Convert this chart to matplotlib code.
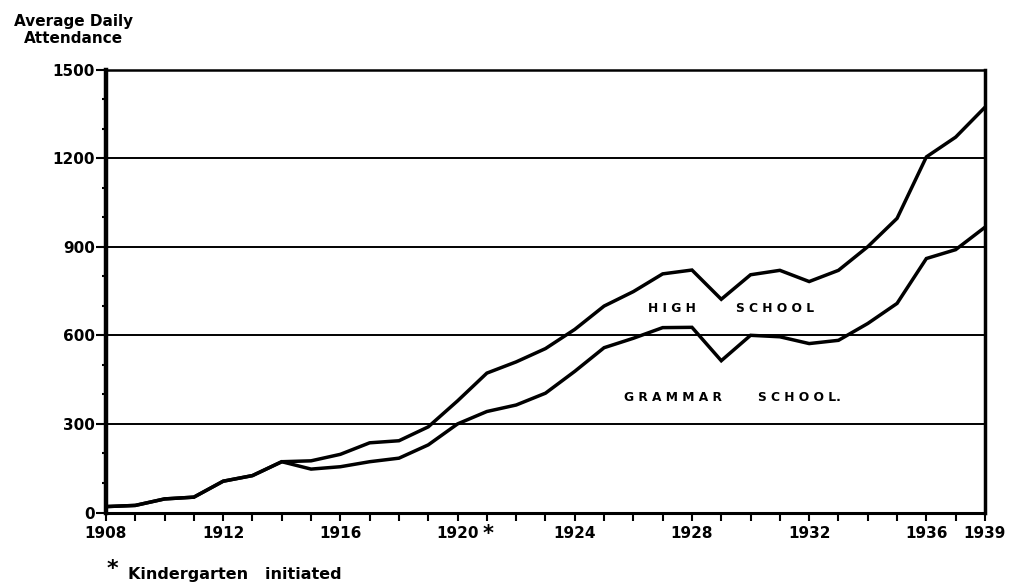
import matplotlib
matplotlib.use("Agg")
import matplotlib.pyplot as plt
import matplotlib.transforms as mtransforms
from matplotlib.ticker import MultipleLocator

# ---- data -------------------------------------------------------------
years = list(range(1908, 1939))          # 31 tick positions (school years)
high_school = [20, 24, 46, 52, 106, 125, 172, 175, 197, 236, 243, 290, 378,
               472, 510, 555, 620, 699, 748, 808, 821, 722, 805, 820, 782,
               820, 900, 996, 1204, 1271, 1372]
grammar_school = [20, 24, 46, 52, 106, 125, 172, 147, 155, 172, 184, 229, 300,
                  342, 364, 404, 478, 558, 590, 626, 627, 514, 600, 595, 572,
                  583, 640, 708, 860, 890, 966]
xtick_pos = [1908, 1912, 1916, 1920, 1924, 1928, 1932, 1936, 1938]
xtick_labels = ["1908", "1912", "1916", "1920", "1924", "1928", "1932", "1936", "1939"]
ytick_vals = [0, 300, 600, 900, 1200, 1500]
ytick_labels = ["0", "300", "600", "900", "1200", "1500"]

# ---- figure -----------------------------------------------------------
plt.rcParams['font.family'] = ['DejaVu Sans']
fig = plt.figure(figsize=(10.17, 5.87), dpi=100)
ax = fig.add_axes([0.1042, 0.1269, 0.8643, 0.7547])

for v in ytick_vals[1:-1]:
    ax.axhline(v, color='black', lw=1.4, zorder=1)

ax.plot(years, high_school, color='black', lw=2.5, solid_joinstyle='miter', zorder=3)
ax.plot(years, grammar_school, color='black', lw=2.5, solid_joinstyle='miter', zorder=3)

ax.set_xlim(1908, 1938)
ax.set_ylim(0, 1500)

ax.set_xticks(xtick_pos)
ax.set_xticklabels(xtick_labels, fontsize=11, fontweight='bold')
ax.xaxis.set_minor_locator(MultipleLocator(1))
ax.set_yticks(ytick_vals)
ax.set_yticklabels(ytick_labels, fontsize=11, fontweight='bold')
ax.yaxis.set_minor_locator(MultipleLocator(100))

ax.tick_params(axis='x', which='both', direction='out', length=6, width=1.5, pad=4)
ax.tick_params(axis='y', which='major', direction='out', length=7, width=1.5, pad=1)
ax.tick_params(axis='y', which='minor', direction='out', length=3, width=1.5)

ax.spines['left'].set_linewidth(3.2)
ax.spines['bottom'].set_linewidth(2.2)
ax.spines['right'].set_linewidth(2.5)
ax.spines['top'].set_linewidth(1.8)

# asterisk after 1920
trans = mtransforms.blended_transform_factory(ax.transData, ax.transAxes)
ax.text(1920.85, -0.025, '*', transform=trans, fontsize=15, fontweight='bold',
        ha='left', va='top')

# series labels
lab_kw = dict(fontsize=8.8, fontweight='bold', ha='center', va='center', zorder=4)
ax.text(1927.3, 692, "H I G H", **lab_kw)
ax.text(1930.85, 692, "S C H O O L", **lab_kw)
ax.text(1927.35, 391, "G R A M M A R", **lab_kw)
ax.text(1931.67, 391, "S C H O O L.", **lab_kw)

# axis title
fig.text(0.072, 0.949, "Average Daily\nAttendance", fontsize=11, fontweight='bold',
         ha='center', va='center', linespacing=1.15)

# footnote
fig.text(0.105, 0.030, "*", fontsize=16, fontweight='bold', ha='left', va='center')
fig.text(0.126, 0.022, "Kindergarten   initiated", fontsize=11.5, fontweight='bold',
         ha='left', va='center')

fig.savefig("out.png", dpi=100)
